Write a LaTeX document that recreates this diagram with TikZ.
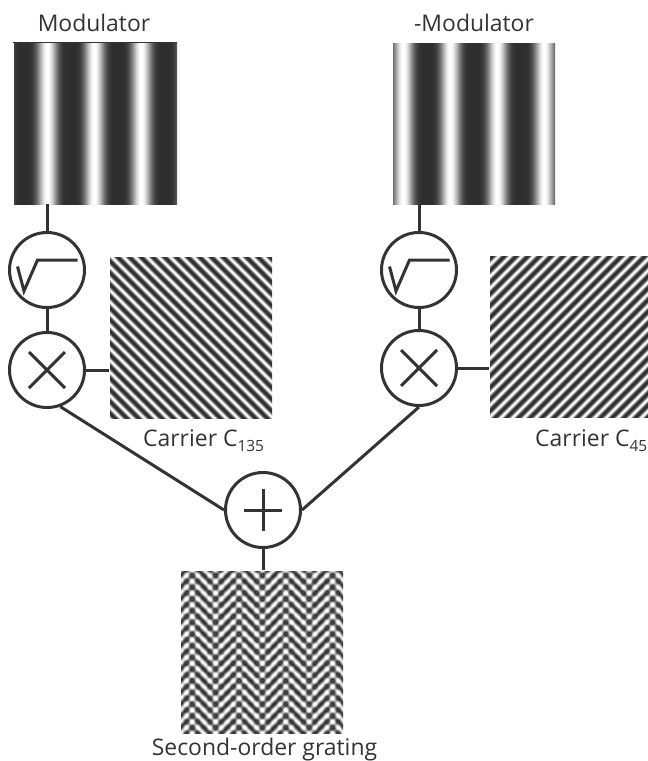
\documentclass[tikz,border=0pt]{standalone}
\usepackage{fontspec}
\setmainfont{Open Sans}
\definecolor{ink}{RGB}{51,51,51}
\newcommand\lowsub[1]{\raisebox{-5.5bp}{\fontsize{15.5}{16}\selectfont #1}}

% Modulator (white peaks at local x = 34 + 47k)
\pgfdeclarefunctionalshading{modL}{\pgfpointorigin}{\pgfpoint{164bp}{162bp}}{}{pop 34 sub 360 mul 47 div cos 1 add 2 div abs 2.3 exp 0.82 mul 0.18 add dup dup}
% -Modulator (white peaks at local x = 11 + 47k)
\pgfdeclarefunctionalshading{modR}{\pgfpointorigin}{\pgfpoint{163bp}{161bp}}{}{pop 11 sub 360 mul 47 div cos 1 add 2 div abs 2.3 exp 0.82 mul 0.18 add dup dup}
% Carrier C135
\pgfdeclarefunctionalshading{carA}{\pgfpointorigin}{\pgfpoint{163bp}{162bp}}{}{add 360 mul 11.7 div cos 1 add 2 div abs 1.5 exp 0.82 mul 0.18 add dup dup}
% Carrier C45
\pgfdeclarefunctionalshading{carB}{\pgfpointorigin}{\pgfpoint{163bp}{162bp}}{}{sub 360 mul 11.7 div cos 1 add 2 div abs 1.5 exp 0.82 mul 0.18 add dup dup}
% Second-order grating
\pgfdeclarefunctionalshading{sog}{\pgfpointorigin}{\pgfpoint{163bp}{163bp}}{}{2 copy add 360 mul 11.7 div cos 3 1 roll 2 copy sub 360 mul 11.7 div cos exch pop exch 23 sub 360 mul 47 div cos dup 1 add 2 div abs sqrt exch 1 exch sub 2 div abs sqrt 3 -1 roll mul 3 1 roll mul add 1 add 2 div abs 1.1 exp 0.82 mul 0.18 add dup dup}

\begin{document}
\begin{tikzpicture}[x=1bp,y=-1bp,
  img/.style={inner sep=0pt,outer sep=0pt,anchor=north west},
  op/.style={circle,draw=ink,line width=3bp,minimum size=75bp,inner sep=0pt},
  wire/.style={draw=ink,line width=3bp},
  sym/.style={draw=ink,line width=3bp},
  lbl/.style={font=\fontsize{23}{28}\selectfont,text=ink,inner sep=0pt}]
\useasboundingbox (0,0) rectangle (648,761);

% images
\node[img] (modL) at (13,42) {\pgfuseshading{modL}};
\node[img] (modR) at (392,43) {\pgfuseshading{modR}};
\node[img] (carL) at (109,256) {\pgfuseshading{carA}};
\node[img] (carR) at (489,255) {\pgfuseshading{carB}};
\node[img] (sogr) at (180,570) {\pgfuseshading{sog}};
\draw[ink,line width=0.9bp] (modL.north west) -- (modL.north east);

% labels
\node[lbl,anchor=base] (tModL) at (94,31.5) {Modulator};
\node[lbl,anchor=base] (tModR) at (474,31.5) {-Modulator};
\node[lbl,anchor=base west] (tCarL) at (143,446) {Carrier C\lowsub{135}};
\node[lbl,anchor=base west] (tCarR) at (535,446) {Carrier C\lowsub{45}};
\node[lbl,anchor=base] (tSog) at (264.5,755) {Second-order grating};

% operators
\node[op] (sL) at (47,270) {};
\node[op] (tL) at (47,370) {};
\node[op] (sR) at (419,270) {};
\node[op] (tR) at (419,368) {};
\node[op] (pl) at (263,510) {};

% symbols
\foreach \n in {sL,sR}{
  \draw[sym,line join=miter] (\n.center) ++(-29.5,-3.5) -- ++(6.5,24.5) -- ++(13.5,-31) -- ++(40,0);
}
\foreach \n in {tL,tR}{
  \draw[sym] (\n.center) ++(-18,-18) -- ++(36,36);
  \draw[sym] (\n.center) ++(18,-18) -- ++(-36,36);
}
\draw[sym] (pl.center) ++(-19,0) -- ++(38,0);
\draw[sym] (pl.center) ++(0,-21) -- ++(0,42);

% connectors
\draw[wire] (sL.north |- modL.south) -- (sL.north);
\draw[wire] (sL.south) -- (tL.north);
\draw[wire] (tL.east) -- (tL.east -| carL.west);
\draw[wire] (sR.north |- modR.south) -- (sR.north);
\draw[wire] (sR.south) -- (tR.north);
\draw[wire] (tR.east) -- (tR.east -| carR.west);
\draw[wire] (tL.-70) -- (pl.west);
\draw[wire] (tR.south) -- (pl.east);
\draw[wire] (pl.south) -- (pl.south |- sogr.north);
\end{tikzpicture}
\end{document}
